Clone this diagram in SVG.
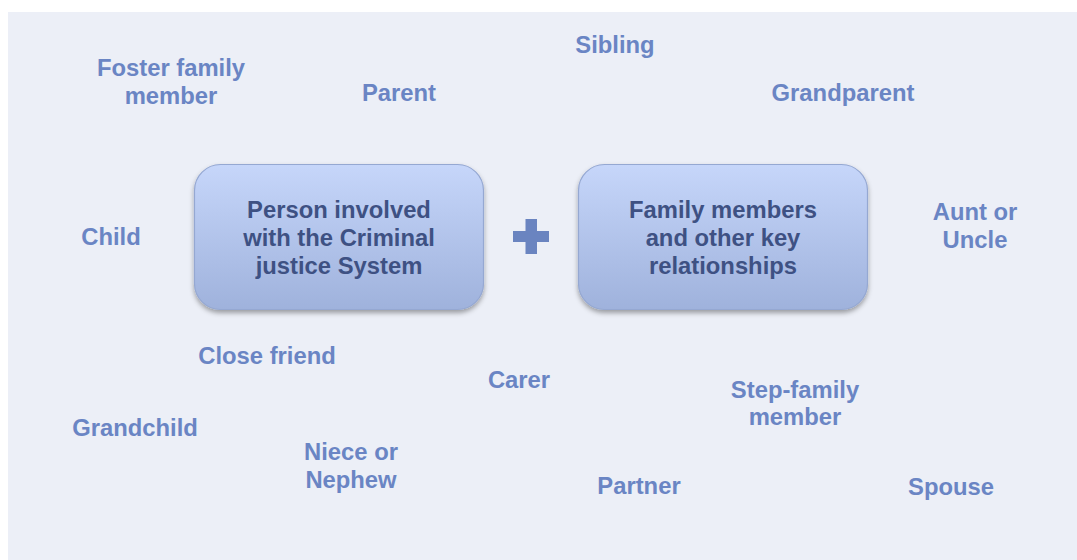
<svg xmlns="http://www.w3.org/2000/svg" width="1077" height="560" viewBox="0 0 1077 560">
  <defs>
    <linearGradient id="boxFill" x1="0" y1="0" x2="0" y2="1">
      <stop offset="0" stop-color="#C6D6FA"/>
      <stop offset="1" stop-color="#9FB2DC"/>
    </linearGradient>
    <filter id="shadow" x="-10%" y="-10%" width="120%" height="130%">
      <feDropShadow dx="0" dy="3" stdDeviation="2.5" flood-color="#000" flood-opacity="0.35"/>
    </filter>
  </defs>
  <style>
    .box { fill: url(#boxFill); stroke: #95A8D2; stroke-width: 1.2; filter: url(#shadow); }
    .boxText { font-family: "Liberation Sans", Arial, sans-serif; font-weight: bold; font-size: 23.8px; fill: #3E5183; text-anchor: middle; }
    .label { font-family: "Liberation Sans", Arial, sans-serif; font-weight: bold; font-size: 23.8px; fill: #6A85C4; text-anchor: middle; }
    .plus { fill: #6A84C0; }
  </style>

  <!-- page background -->
  <rect x="0" y="0" width="1077" height="560" fill="#FFFFFF"/>
  <rect x="8" y="12" width="1069" height="548" fill="#ECEFF7"/>

  <!-- central boxes -->
  <g id="person">
    <rect class="box" x="194.5" y="164.5" width="289" height="145" rx="26" ry="26"/>
    <text class="boxText" x="339" y="218">Person involved</text>
    <text class="boxText" x="339" y="246">with the Criminal</text>
    <text class="boxText" x="339" y="274">justice System</text>
  </g>

  <g id="plus">
    <rect class="plus" x="513" y="231" width="36" height="11"/>
    <rect class="plus" x="525.5" y="219" width="11.5" height="35"/>
  </g>

  <g id="family">
    <rect class="box" x="578.5" y="164.5" width="289" height="145" rx="26" ry="26"/>
    <text class="boxText" x="723" y="218">Family members</text>
    <text class="boxText" x="723" y="246">and other key</text>
    <text class="boxText" x="723" y="274">relationships</text>
  </g>

  <!-- surrounding relationship labels -->
  <g id="foster"><text class="label" x="171" y="76">Foster family</text><text class="label" x="171" y="104">member</text></g>
  <g id="parent"><text class="label" x="399" y="101">Parent</text></g>
  <g id="sibling"><text class="label" x="615" y="53">Sibling</text></g>
  <g id="grandparent"><text class="label" x="843" y="101">Grandparent</text></g>
  <g id="child"><text class="label" x="111" y="245">Child</text></g>
  <g id="aunt"><text class="label" x="975" y="220">Aunt or</text><text class="label" x="975" y="248">Uncle</text></g>
  <g id="friend"><text class="label" x="267" y="364">Close friend</text></g>
  <g id="carer"><text class="label" x="519" y="388">Carer</text></g>
  <g id="stepfamily"><text class="label" x="795" y="398">Step-family</text><text class="label" x="795" y="425">member</text></g>
  <g id="grandchild"><text class="label" x="135" y="436">Grandchild</text></g>
  <g id="niece"><text class="label" x="351" y="460">Niece or</text><text class="label" x="351" y="488">Nephew</text></g>
  <g id="partner"><text class="label" x="639" y="494">Partner</text></g>
  <g id="spouse"><text class="label" x="951" y="495">Spouse</text></g>

  <g id="connectors"></g>
</svg>
